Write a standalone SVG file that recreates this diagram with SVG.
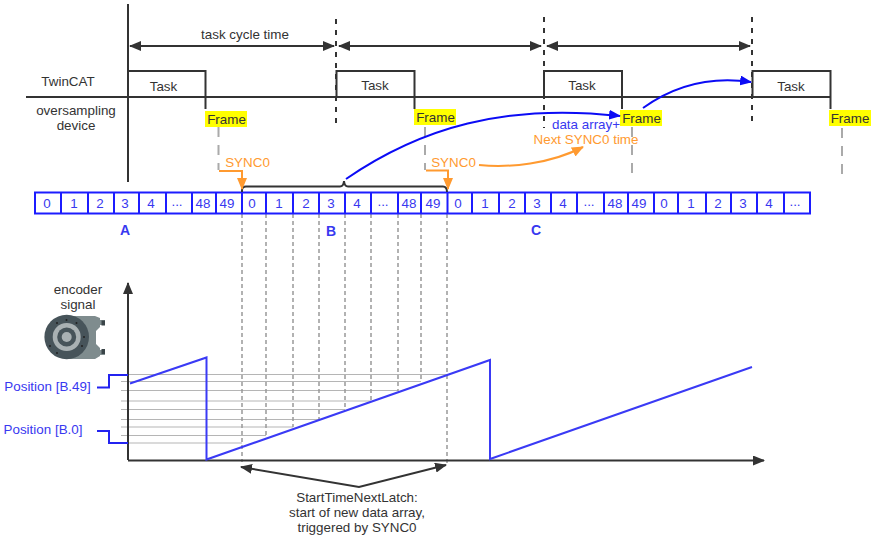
<svg xmlns="http://www.w3.org/2000/svg" width="875" height="539" viewBox="0 0 875 539">
<style>
text{font-family:"Liberation Sans",Arial,sans-serif;font-size:13.4px;fill:#333;text-anchor:middle}
.b{fill:#3838f0}.o{fill:#ff9a30}
.k{fill:none;stroke:#333;stroke-width:2}
.cell{fill:#fff;stroke:#1c1cff;stroke-width:2}
.fr{fill:#ffff00}
.gd{fill:none;stroke:#aaa;stroke-width:2;stroke-dasharray:10 8}
.vd{fill:none;stroke:#999;stroke-width:1.5;stroke-dasharray:4 3}
.kd{fill:none;stroke:#333;stroke-width:2;stroke-dasharray:5 6}
.h{stroke:#b5b5b5;stroke-width:1.2}
.blue{fill:none;stroke:#0b0bf5;stroke-width:2}
.ramp{fill:none;stroke:#3a3af5;stroke-width:2}
.or{fill:none;stroke:#ff9a30;stroke-width:2}
.bold{font-weight:bold;font-size:14px}
</style>
<defs>
<marker id="ak" markerUnits="userSpaceOnUse" markerWidth="12" markerHeight="10" refX="11" refY="5" orient="auto-start-reverse"><path d="M0 0L12 5L0 10Z" fill="#333"/></marker>
<marker id="ab" markerUnits="userSpaceOnUse" markerWidth="12" markerHeight="10" refX="11" refY="5" orient="auto"><path d="M0 0L12 5L0 10Z" fill="#0b0bf5"/></marker>
<marker id="ao" markerUnits="userSpaceOnUse" markerWidth="12" markerHeight="10" refX="11" refY="5" orient="auto"><path d="M0 0L12 5L0 10Z" fill="#ff9a30"/></marker>
</defs>

<g id="grid-lines">
<path class="h" d="M121 374.500H447M121 381.500H421M121 390.500H398M121 401H371M121 409.500H345M121 419.500H319M121 427H293M121 435.500H266M121 443H242"/>
<path class="vd" d="M242 214V462M266 214V436M293 214V427M319 214V419M345 214V409M371 214V401M398 214V391M421 214V381M447 214V466"/>
</g>

<g id="timeline">
<path class="k" d="M26 97H830"/>
<path class="k" d="M128 4V182"/>
<path class="kd" d="M336 19V128M544 17V128M752 17V126"/>
<path class="k" d="M128 97V71H205.500V109"/>
<path class="k" d="M336.500 97V71H414.500V109"/>
<path class="k" d="M544 97V71H622V109"/>
<path class="k" d="M752.500 97V71H830.500V109"/>
<path class="k" d="M130 46H334" marker-start="url(#ak)" marker-end="url(#ak)"/>
<path class="k" d="M339 46H541" marker-start="url(#ak)" marker-end="url(#ak)"/>
<path class="k" d="M547 46H750" marker-start="url(#ak)" marker-end="url(#ak)"/>
</g>

<g id="labels-top">
<text x="245" y="39">task cycle time</text>
<text x="68" y="86">TwinCAT</text>
<text x="76" y="115">oversampling</text>
<text x="76" y="130">device</text>
</g>

<g id="task-1"><text x="163.500" y="91">Task</text></g>
<g id="task-2"><text x="375" y="90">Task</text></g>
<g id="task-3"><text x="582" y="90">Task</text></g>
<g id="task-4"><text x="791" y="91">Task</text></g>

<g id="frame-drops">
<path class="gd" d="M218.500 127V170M425 127V170M632 127V174M842 128V176"/>
</g>
<g id="frame-1"><rect class="fr" x="205" y="111" width="42" height="16"/><text x="226.500" y="124">Frame</text></g>
<g id="frame-2"><rect class="fr" x="414" y="109" width="42" height="16"/><text x="435.500" y="122">Frame</text></g>
<g id="frame-3"><rect class="fr" x="620" y="110" width="42" height="16"/><text x="641.500" y="123">Frame</text></g>
<g id="frame-4"><rect class="fr" x="829" y="110" width="42" height="16"/><text x="850" y="123">Frame</text></g>

<g id="array">
<rect class="cell" x="35" y="192.500" width="775" height="21"/>
<path class="cell" d="M61 192V214M88 192V214M114 192V214M139 192V214M166 192V214M192 192V214M216 192V214M242 192V214M266 192V214M293 192V214M319 192V214M345 192V214M371 192V214M398 192V214M421 192V214M447.500 192V214M472 192V214M499 192V214M525 192V214M551 192V214M577 192V214M604 192V214M628 192V214M654 192V214M678 192V214M706 192V214M731 192V214M757 192V214M784 192V214"/>
<text class="b" x="47" y="208">0</text><text class="b" x="74" y="208">1</text><text class="b" x="100" y="208">2</text><text class="b" x="125" y="208">3</text><text class="b" x="151" y="208">4</text><text class="b" x="177" y="206">...</text><text class="b" x="203" y="208">48</text><text class="b" x="227" y="208">49</text>
<text class="b" x="252" y="208">0</text><text class="b" x="279" y="208">1</text><text class="b" x="306" y="208">2</text><text class="b" x="331" y="208">3</text><text class="b" x="357" y="208">4</text><text class="b" x="383" y="206">...</text><text class="b" x="409" y="208">48</text><text class="b" x="433" y="208">49</text>
<text class="b" x="458" y="208">0</text><text class="b" x="485" y="208">1</text><text class="b" x="512" y="208">2</text><text class="b" x="537" y="208">3</text><text class="b" x="563" y="208">4</text><text class="b" x="589" y="206">...</text><text class="b" x="615" y="208">48</text><text class="b" x="639" y="208">49</text>
<text class="b" x="664" y="208">0</text><text class="b" x="691" y="208">1</text><text class="b" x="718" y="208">2</text><text class="b" x="743" y="208">3</text><text class="b" x="769" y="208">4</text><text class="b" x="795" y="206">...</text>
<text class="b bold" x="125" y="235">A</text>
<text class="b bold" x="331" y="236">B</text>
<text class="b bold" x="536" y="235">C</text>
</g>

<g id="connectors">
<path class="k" d="M242 192V190Q242 186.500 246 186.500H340Q343.500 186.500 344 181Q344.500 186.500 348 186.500H443Q447 186.500 447 192"/>
<path class="or" d="M219 171H242V189" marker-end="url(#ao)"/>
<path class="or" d="M426 170.500H448V189" marker-end="url(#ao)"/>
<path class="or" d="M479 165C510 168 550 164 583 147" marker-end="url(#ao)"/>
<path class="blue" d="M346 179C420 128 505 103 620 116" marker-end="url(#ab)"/>
<path class="blue" d="M643 108C675 85 710 76 751 82" marker-end="url(#ab)"/>
<path class="k" d="M241 467L359 487L446 465" marker-start="url(#ak)" marker-end="url(#ak)"/>
<path class="k" d="M128 460V283" marker-end="url(#ak)"/>
<path class="k" d="M128 460.500H764" marker-end="url(#ak)"/>
<path class="ramp" d="M130 383.500L206.500 357.500V459.500L490 360V459L752 367"/>
<path class="blue" d="M97 387.500H109V375H128M97 431H109V443H128" style="stroke:#2323f0"/>
</g>

<g id="sync-labels">
<text class="o" x="247.500" y="167">SYNC0</text>
<text class="o" x="453.500" y="167">SYNC0</text>
<text class="b" x="586" y="129">data array+</text>
<text class="o" x="586" y="144">Next SYNC0 time</text>
</g>

<g id="encoder">
<text x="78" y="294">encoder</text>
<text x="78" y="309">signal</text>
<path d="M68 316H95L100 318V320H105V325H100V327L96 331V344L100 348V350H105V355H100V356L95 359H68Z" fill="#7f8c8e"/>
<path d="M101.500 320.500H105V325.500H101.500ZM101.500 349H105V354H101.500Z" fill="#3a4448"/>
<circle cx="66.700" cy="337" r="22.300" fill="#47545a"/>
<circle cx="66.700" cy="337" r="14" fill="#a9b1b3"/>
<circle cx="66.700" cy="337" r="9.500" fill="#47545a"/>
<circle cx="66.700" cy="337" r="5" fill="#a9b1b3"/>
<path d="M66.500 320v.01M57 323v.01M76.500 323v.01M84 337v.01M50 346v.01M57 353v.01M82 346v.01" stroke="#222" stroke-width="2" stroke-linecap="round" fill="none"/>
</g>

<g id="position-labels">
<text class="b" x="47.500" y="391">Position [B.49]</text>
<text class="b" x="43" y="434">Position [B.0]</text>
</g>

<g id="caption">
<text x="357" y="502">StartTimeNextLatch:</text>
<text x="357" y="517">start of new data array,</text>
<text x="357" y="532">triggered by SYNC0</text>
</g>
</svg>
